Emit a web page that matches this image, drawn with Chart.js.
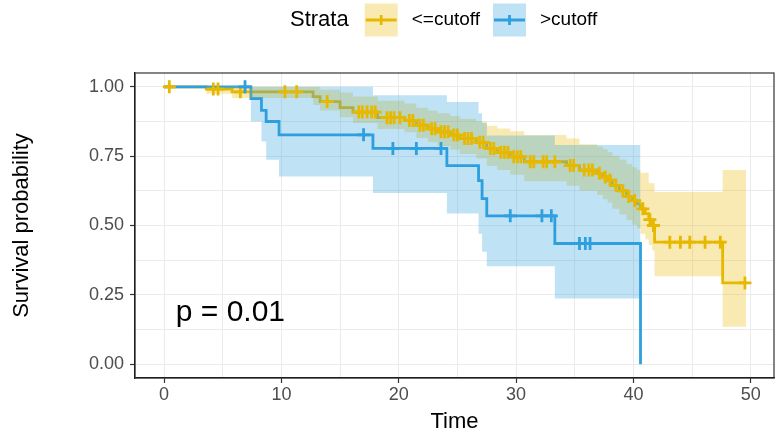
<!DOCTYPE html>
<html>
<head>
<meta charset="utf-8">
<script src="https://cdn.jsdelivr.net/npm/chart.js@4.4.1/dist/chart.umd.min.js"></script>
<style>
  html, body { margin: 0; padding: 0; background: #fff; }
  #wrap { width: 776px; height: 435px; }
</style>
</head>
<body>
<div id="wrap"><canvas id="kmChart" width="776" height="435"></canvas></div>
<script>
// --- Data ---
const strata = ["<=cutoff", ">cutoff"];
const strataColors = ["#E7B800", "#2E9FDF"];
const bandColors = ["rgba(231,184,0,0.3)", "rgba(46,159,223,0.3)"];

// <=cutoff: step times, survival, lower / upper confidence limits
const lowTime  = [0, 3.6, 5.8, 12.7, 13.3, 15.0, 16.1, 18.2, 20.5, 21.5, 22.5, 23.3, 24.4, 25.2, 26.6, 27.5, 28.4, 29.5, 30.7, 34.3, 35.4, 36.9, 37.4, 37.8, 38.2, 38.8, 39.4, 39.9, 40.3, 40.6, 41.0, 41.3, 41.6, 41.8, 47.6, 49.6];
const lowSurv  = [1, 0.992, 0.982, 0.965, 0.947, 0.925, 0.909, 0.889, 0.879, 0.862, 0.849, 0.838, 0.826, 0.814, 0.80, 0.778, 0.764, 0.748, 0.73, 0.716, 0.70, 0.688, 0.675, 0.664, 0.645, 0.625, 0.605, 0.59, 0.578, 0.56, 0.543, 0.521, 0.50, 0.44, 0.293, 0.293];
const lowLower = [1, 0.975, 0.96, 0.935, 0.915, 0.89, 0.87, 0.848, 0.836, 0.816, 0.80, 0.787, 0.773, 0.758, 0.742, 0.715, 0.70, 0.683, 0.66, 0.643, 0.625, 0.61, 0.595, 0.583, 0.56, 0.54, 0.52, 0.503, 0.49, 0.47, 0.45, 0.43, 0.41, 0.317, 0.135, 0.135];
const lowUpper = [1, 1, 1, 1, 0.99, 0.98, 0.965, 0.95, 0.94, 0.925, 0.915, 0.905, 0.895, 0.885, 0.875, 0.86, 0.85, 0.84, 0.826, 0.814, 0.793, 0.785, 0.775, 0.765, 0.752, 0.738, 0.722, 0.71, 0.70, 0.69, 0.69, 0.652, 0.652, 0.621, 0.70, 0.70];
const lowCensor = [0.45, 4.2, 4.6, 6.5, 10.3, 11.3, 13.9, 16.6, 16.9, 17.3, 17.7, 18.0, 19.0, 19.3, 19.6, 20.1, 20.9, 21.2, 21.8, 22.1, 22.8, 23.1, 23.6, 23.9, 24.2, 24.7, 25.0, 25.6, 25.9, 26.2, 26.9, 27.2, 27.8, 28.1, 28.7, 29.0, 29.3, 29.8, 30.1, 30.4, 31.2, 31.5, 32.3, 32.6, 33.3, 34.6, 34.9, 35.8, 36.2, 36.5, 37.1, 37.6, 38.0, 38.5, 39.1, 39.6, 40.1, 40.8, 41.4, 41.7, 43.1, 44.0, 44.8, 46.1, 47.4, 49.5];

// >cutoff
const highTime  = [0, 7.4, 8.3, 8.7, 9.8, 17.8, 24.1, 26.8, 27.1, 27.5, 33.3, 40.6];
const highSurv  = [1, 0.958, 0.915, 0.875, 0.827, 0.778, 0.716, 0.662, 0.597, 0.535, 0.435, 0];
const highLower = [1, 0.875, 0.803, 0.737, 0.677, 0.617, 0.543, 0.47, 0.405, 0.353, 0.237, 0.237];
const highUpper = [1, 1, 1, 1, 1, 0.97, 0.945, 0.905, 0.87, 0.825, 0.79, 0.79];
const highCensor = [6.9, 17.0, 19.5, 21.5, 23.6, 29.5, 32.2, 33.0, 35.4, 35.9, 36.3];

const xTickLabels = [0, 10, 20, 30, 40, 50];
const yTickLabels = ["0.00", "0.25", "0.50", "0.75", "1.00"];
const xRange = [-2.475, 51.975];
const yRange = [-0.05, 1.05];
const pValueText = "p = 0.01";
const pValueAt = [1.0, 0.155];

const FONT = '"Liberation Sans", Arial, sans-serif';

// --- helpers ---
function stepPoints(times, vals){ return times.map((t,i)=>({x:t, y:vals[i]})); }
function survAt(times, surv, t){
  let v = surv[0];
  for(let i=0;i<times.length;i++){ if(times[i] <= t) v = surv[i]; }
  return v;
}
function censorPoints(cens, times, surv){ return cens.map(t=>({x:t, y:survAt(times, surv, t)})); }
function withMinor(major){
  const out = [];
  major.forEach((v,i)=>{ out.push(v); if(i<major.length-1) out.push((v+major[i+1])/2); });
  return out;
}
const xGrid = withMinor(xTickLabels);
const yTickValues = yTickLabels.map(Number);
const yGrid = withMinor(yTickValues);

const lineDs = (label, pts, color, order) => ({
  label, data: pts, borderColor: color, borderWidth: 2.8, stepped: 'before',
  pointRadius: 0, fill: false, order, borderCapStyle: 'butt'
});
const bandEdge = (label, pts, order, fill, bg) => ({
  label, data: pts, borderColor: 'rgba(0,0,0,0)', borderWidth: 0, stepped: 'before',
  pointRadius: 0, fill: fill, backgroundColor: bg || 'rgba(0,0,0,0)', order
});
const censorDs = (label, pts, color, order) => ({
  label, data: pts, showLine: false, pointStyle: 'cross', pointRadius: 6.5,
  pointBorderWidth: 2.8, pointBorderColor: color, pointBackgroundColor: color, order
});

const datasets = [
  lineDs(strata[0], stepPoints(lowTime, lowSurv), strataColors[0], 9),            // 0
  lineDs(strata[1], stepPoints(highTime, highSurv), strataColors[1], 8),          // 1
  bandEdge('low-lower', stepPoints(lowTime, lowLower), 7, false),                 // 2
  bandEdge('low-upper', stepPoints(lowTime, lowUpper), 7, 2, bandColors[0]),      // 3
  bandEdge('high-lower', stepPoints(highTime, highLower), 6, false),              // 4
  bandEdge('high-upper', stepPoints(highTime, highUpper), 6, 4, bandColors[1]),   // 5
  censorDs('low-censor', censorPoints(lowCensor, lowTime, lowSurv), strataColors[0], 2),
  censorDs('high-censor', censorPoints(highCensor, highTime, highSurv), strataColors[1], 1)
];

// --- legend, panel frame and p-value ---
const overlay = {
  id: 'overlay',
  afterDatasetsDraw(chart){
    const {ctx, chartArea:a, scales:{x, y}} = chart;
    ctx.save();
    ctx.strokeStyle = '#333';
    ctx.lineWidth = 1.2;
    ctx.strokeRect(a.left, a.top, a.right - a.left, a.bottom - a.top);
    ctx.fillStyle = '#000';
    ctx.font = '30px ' + FONT;
    ctx.textAlign = 'left';
    ctx.textBaseline = 'alphabetic';
    ctx.fillText(pValueText, x.getPixelForValue(pValueAt[0]), y.getPixelForValue(pValueAt[1]));
    ctx.restore();
  },
  afterDraw(chart){
    const ctx = chart.ctx;
    const midY = 20, key = 33;
    let lx = 290;
    ctx.save();
    ctx.textBaseline = 'middle';
    ctx.textAlign = 'left';
    ctx.fillStyle = '#000';
    ctx.font = '22px ' + FONT;
    ctx.fillText('Strata', lx, midY);
    lx += ctx.measureText('Strata').width + 16;
    strata.forEach((name,i)=>{
      ctx.fillStyle = bandColors[i];
      ctx.fillRect(lx, midY - key/2, key, key);
      ctx.strokeStyle = strataColors[i];
      ctx.lineWidth = 2.8;
      ctx.beginPath();
      ctx.moveTo(lx + 1, midY); ctx.lineTo(lx + key - 1, midY);
      ctx.moveTo(lx + key/2, midY - 5); ctx.lineTo(lx + key/2, midY + 5);
      ctx.stroke();
      lx += key + 14;
      ctx.fillStyle = '#000';
      ctx.font = '19px ' + FONT;
      ctx.fillText(name, lx, midY);
      lx += ctx.measureText(name).width + 13;
    });
    ctx.restore();
  }
};

Chart.defaults.font.family = FONT;

new Chart(document.getElementById('kmChart'), {
  type: 'line',
  data: { datasets },
  plugins: [overlay],
  options: {
    responsive: false,
    animation: false,
    events: [],
    devicePixelRatio: 1,
    layout: { autoPadding: false, padding: { top: 73, right: 2, bottom: 0, left: 0 } },
    plugins: {
      legend: { display: false },
      tooltip: { enabled: false },
      filler: { propagate: false, drawTime: 'beforeDatasetDraw' }
    },
    scales: {
      x: {
        type: 'linear', min: xRange[0], max: xRange[1],
        afterBuildTicks: s => { s.ticks = xGrid.map(v=>({value:v})); },
        afterFit: s => { s.height = 57; s.paddingLeft = 0; s.paddingRight = 0; },
        ticks: {
          autoSkip: false, maxRotation: 0, padding: 1,
          color: '#4D4D4D', font: { size: 18 },
          callback: v => xTickLabels.includes(v) ? String(v) : ''
        },
        grid: {
          color: '#EBEBEB', lineWidth: 1, tickLength: 5, tickWidth: 1.2,
          tickColor: c => (c.tick && xTickLabels.includes(c.tick.value)) ? '#333' : 'rgba(0,0,0,0)'
        },
        border: { display: true, color: '#000', width: 1.2 },
        title: { display: true, text: 'Time', color: '#000', font: { size: 22 }, padding: { top: 0, bottom: 0 } }
      },
      y: {
        type: 'linear', min: yRange[0], max: yRange[1],
        afterBuildTicks: s => { s.ticks = yGrid.map(v=>({value:v})); },
        afterFit: s => { s.width = 135; s.paddingTop = 0; s.paddingBottom = 0; },
        ticks: {
          autoSkip: false, padding: 6,
          color: '#4D4D4D', font: { size: 18 },
          callback: v => { const i = yTickValues.indexOf(v); return i >= 0 ? yTickLabels[i] : ''; }
        },
        grid: {
          color: '#EBEBEB', lineWidth: 1, tickLength: 5, tickWidth: 1.2,
          tickColor: c => (c.tick && yTickValues.includes(c.tick.value)) ? '#333' : 'rgba(0,0,0,0)'
        },
        border: { display: true, color: '#000', width: 1.2 },
        title: { display: true, text: 'Survival probability', color: '#000', font: { size: 22 }, padding: { top: 9, bottom: 0 } }
      }
    }
  }
});
</script>
</body>
</html>
